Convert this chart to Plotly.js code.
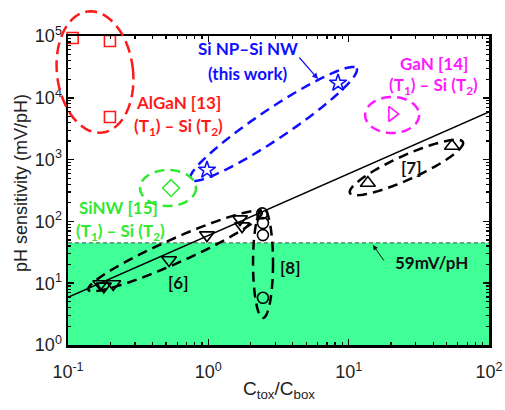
<!DOCTYPE html>
<html><head><meta charset="utf-8">
<script src="https://cdn.plot.ly/plotly-3.0.1.min.js"></script>
<style>html,body{margin:0;padding:0;background:#fff}#chart{width:505px;height:410px}</style>
</head><body><div id="chart"></div>
<script>
// ---- data ----
const alganX = [0.108, 0.199, 0.199];
const alganY = [92900, 83000, 4890];
const thisWorkX = [0.978, 8.4];
const thisWorkY = [679, 17350];
const sinwX = [0.542];
const sinwY = [347];
const ganX = [20.4];
const ganY = [5470];
const ref7X = [13.7, 54.5];
const ref7Y = [418, 1660];
const ref6X = [0.17, 0.18, 0.21, 0.525, 0.978, 1.68, 1.74];
const ref6Y = [9.7, 8.9, 9.7, 23.7, 60, 109, 84];
const ref8X = [2.42, 2.45, 2.45, 2.45];
const ref8Y = [135, 94, 60, 5.8];
const idealX = [0.1, 100];
const idealY = [5.9, 5900];
const nernstLevel = 45;
const xRange = [0.1, 100];
const yRange = [1, 1e5];
const xTickVals = [0.1, 1, 10, 100];
const xTickText = ['10<sup>-1</sup>', '10<sup>0</sup>', '10<sup>1</sup>', '10<sup>2</sup>'];
const yTickVals = [1, 10, 100, 1000, 10000, 100000];
const yTickText = ['10<sup>0</sup>', '10<sup>1</sup>', '10<sup>2</sup>', '10<sup>3</sup>', '10<sup>4</sup>', '10<sup>5</sup>'];

// ---- geometry of plot area (px) ----
const M = {l: 68, r: 16, t: 36, b: 65};
const W = 505 - M.l - M.r, H = 410 - M.t - M.b;
const lx0 = Math.log10(xRange[0]), lx1 = Math.log10(xRange[1]);
const ly0 = Math.log10(yRange[0]), ly1 = Math.log10(yRange[1]);
function dataToPx(x, y) {
  return [(Math.log10(x) - lx0) / (lx1 - lx0) * W, H - (Math.log10(y) - ly0) / (ly1 - ly0) * H];
}
function pxToPaper(X, Y) { return [X / W, (H - Y) / H]; }

function ellipse(e) {
  const [cX, cY] = dataToPx(e.cx, e.cy);
  const th = e.ang * Math.PI / 180;
  let d = '';
  const N = 72;
  for (let i = 0; i <= N; i++) {
    const t = 2 * Math.PI * i / N;
    const X = cX + e.a * Math.cos(t) * Math.cos(th) - e.b * Math.sin(t) * Math.sin(th);
    const Y = cY + e.a * Math.cos(t) * Math.sin(th) + e.b * Math.sin(t) * Math.cos(th);
    const [px, py] = pxToPaper(X, Y);
    d += (i === 0 ? 'M' : 'L') + px.toFixed(5) + ',' + py.toFixed(5);
  }
  return {type: 'path', xref: 'paper', yref: 'paper', path: d + 'Z',
    line: {color: e.color, width: 2.5, dash: e.dash || '10px,6px'}, layer: 'above'};
}

const ellipses = [
  {cx: 0.1557, cy: 26130, a: 38, b: 61, ang: -7, color: '#ff1a1a', dash: '12px,6px'},
  {cx: 2.913, cy: 3768, a: 100, b: 15, ang: -33.8, color: '#1010ff'},
  {cx: 0.516, cy: 347, a: 28, b: 18, ang: 0, color: '#33e833'},
  {cx: 20.4, cy: 5270, a: 27, b: 18, ang: 0, color: '#ff1aff'},
  {cx: 25.8, cy: 745, a: 62, b: 12, ang: -24.3, color: '#000'},
  {cx: 0.579, cy: 33.2, a: 95, b: 12, ang: -24.1, color: '#000'},
  {cx: 2.453, cy: 21.2, a: 10, b: 55, ang: 0, color: '#000'}
];

function mk(x, y, symbol, color, size) {
  return {x: x, y: y, type: 'scatter', mode: 'markers', cliponaxis: false,
    marker: {symbol: symbol, size: size, color: color, line: {color: color, width: 1.6}},
    hoverinfo: 'skip', showlegend: false};
}

const traces = [
  {x: [xRange[0], xRange[1], xRange[1], xRange[0]], y: [yRange[0], yRange[0], nernstLevel, nernstLevel],
   type: 'scatter', mode: 'lines', fill: 'toself', fillcolor: '#40ff96', line: {width: 0}, showlegend: false, hoverinfo: 'skip'},
  {x: xRange, y: [nernstLevel, nernstLevel], type: 'scatter', mode: 'lines',
   line: {color: '#555', width: 1, dash: '4px,3px'}, showlegend: false, hoverinfo: 'skip'},
  {x: idealX, y: idealY, type: 'scatter', mode: 'lines', line: {color: '#000', width: 1.5}, showlegend: false, hoverinfo: 'skip'},
  mk(alganX, alganY, 'square-open', '#ff1a1a', 11),
  mk(thisWorkX, thisWorkY, 'star-open', '#1010ff', 13),
  mk(sinwX, sinwY, 'diamond-open', '#33e833', 13),
  mk(ganX, ganY, 'triangle-right-open', '#ff1aff', 13),
  mk(ref7X, ref7Y, 'triangle-up-open', '#000', 13),
  mk(ref6X, ref6Y, 'triangle-down-open', '#000', 13),
  mk(ref8X, ref8Y, 'circle-open', '#000', 11)
];

const lab = {family: 'Lato, "Open Sans", sans-serif', size: 17, weight: 700};
function ann(text, lx, ly, color, extra) {
  return Object.assign({text: text, x: lx, y: ly, xref: 'x', yref: 'y', showarrow: false,
    font: Object.assign({}, lab, {color: color})}, extra || {});
}
const titleFont = {family: '"Liberation Sans", Arial, sans-serif', size: 18, color: '#222'};
const sub = '(T<sub>1</sub>) – Si (T<sub>2</sub>)';
const annotations = [
  ann('Si NP–Si NW', 0.283, 4.79, '#1010ff'),
  ann('(this work)', 0.283, 4.401, '#1010ff'),
  ann('AlGaN [13]', -0.216, 3.916, '#ff1a1a'),
  ann(sub, -0.216, 3.528, '#ff1a1a'),
  ann('GaN [14]', 1.608, 4.563, '#ff1aff'),
  ann(sub, 1.608, 4.191, '#ff1aff'),
  ann('SiNW [15]', -0.637, 2.217, '#33e833'),
  ann(sub, -0.629, 1.828, '#33e833'),
  ann('[6]', -0.216, 1.019, '#111'),
  ann('[7]', 1.451, 2.88, '#111'),
  ann('[8]', 0.582, 1.262, '#111'),
  ann('59mV/pH', 1.587, 1.327, '#111'),
  {text: '', x: 1.173, y: 1.618, xref: 'x', yref: 'y', showarrow: true, ax: 12, ay: 17,
   arrowhead: 2, arrowsize: 1, arrowwidth: 1, arrowcolor: '#111'},
  {text: '', x: 0.7815, y: 4.304, xref: 'x', yref: 'y', showarrow: true, ax: -20, ay: -23,
   arrowhead: 2, arrowsize: 1, arrowwidth: 1.2, arrowcolor: '#1010ff'},
  // axis titles
  {text: 'pH sensitivity (mV/pH)', textangle: -90, xref: 'paper', yref: 'paper',
   x: -(M.l - 21) / W, y: (H - (183 - M.t)) / H, xanchor: 'center', yanchor: 'middle',
   showarrow: false, font: titleFont},
  {text: 'C<sub>tox</sub>/C<sub>box</sub>', xref: 'paper', yref: 'paper',
   x: 0.5, y: -(390 - M.t - H) / H, xanchor: 'center', yanchor: 'middle',
   showarrow: false, font: Object.assign({}, titleFont, {size: 19})}
];

function minorVals(lo, hi) {
  const v = [];
  for (let p = lo; p < hi; p++) for (let k = 2; k <= 9; k++) v.push(k * Math.pow(10, p));
  return v;
}

const axisCommon = {
  type: 'log', tickmode: 'array', showgrid: false, zeroline: false,
  ticks: 'inside', ticklen: 6, tickwidth: 1.5, tickcolor: '#000',
  showline: true, linewidth: 2.5, linecolor: '#000', mirror: 'allticks',
  tickfont: {family: '"Liberation Sans", Arial, sans-serif', size: 18, color: '#222'}
};

const layout = {
  width: 505, height: 410, margin: M, paper_bgcolor: '#fff', plot_bgcolor: '#fff',
  xaxis: Object.assign({}, axisCommon, {range: [lx0, lx1], tickvals: xTickVals, ticktext: xTickText,
    ticklabelstandoff: 9,
    minor: {ticks: 'inside', ticklen: 3, tickwidth: 1.2, tickcolor: '#000', tickmode: 'array', tickvals: minorVals(-1, 2)}}),
  yaxis: Object.assign({}, axisCommon, {range: [ly0, ly1], tickvals: yTickVals, ticktext: yTickText,
    minor: {ticks: 'inside', ticklen: 3, tickwidth: 1.2, tickcolor: '#000', tickmode: 'array', tickvals: minorVals(0, 5)}}),
  shapes: ellipses.map(ellipse),
  annotations: annotations,
  showlegend: false
};

Plotly.newPlot('chart', traces, layout, {staticPlot: true, displayModeBar: false});
</script>
</body></html>
